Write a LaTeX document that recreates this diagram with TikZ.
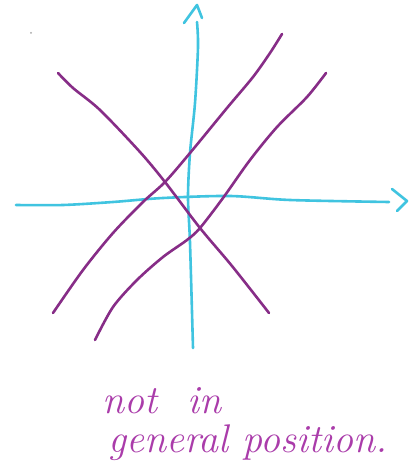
\documentclass[tikz,border=0pt]{standalone}
\usepackage{fontspec}
\definecolor{axiscol}{RGB}{64,196,224}
\definecolor{curvecol}{RGB}{135,45,135}
\definecolor{textcol}{RGB}{170,60,170}
\begin{document}
\begin{tikzpicture}[x=1pt,y=-1pt,
  axis/.style={draw=axiscol,line width=2.6pt,line cap=round,line join=round},
  curve/.style={draw=curvecol,line width=2.6pt,line cap=round},
  handtext/.style={text=textcol,font=\fontsize{40}{46}\selectfont\itshape,inner sep=0pt,anchor=base west}]
\useasboundingbox[fill=white] (0,0) rectangle (417,476);
% speck
\fill[gray!70] (31,33) circle (1pt);
% vertical axis
\draw[axis] plot[smooth] coordinates {(193,348) (190,243) (188,197) (190,153) (195,103) (198,47) (197,22)};
\draw[axis] (184,23) -- (197,5) -- (202,18);
% horizontal axis
\draw[axis] plot[smooth] coordinates {(16,205) (63,205) (113,202) (163,198) (230,196) (290,200) (389,202)};
\draw[axis] (392,189) -- (407,201) -- (397,211);
% magenta curves
\draw[curve] plot[smooth] coordinates {(58,73) (73,88) (100,110) (140,152) (165,182) (200,228) (232,266) (269,313)};
\draw[curve] plot[smooth] coordinates {(53,313) (83,270) (113,233) (143,202) (165,182) (190,153) (227,108) (253,77) (270,53) (282,34)};
\draw[curve] plot[smooth] coordinates {(95,340) (113,307) (137,280) (163,257) (187,240) (200,228) (223,198) (250,160) (277,127) (307,97) (326,73)};
% text
\node[handtext] (t1) at (102,413) {not\hspace{30pt}in};
\node[handtext] (t2) at (108,452) {general position.};
\end{tikzpicture}
\end{document}
